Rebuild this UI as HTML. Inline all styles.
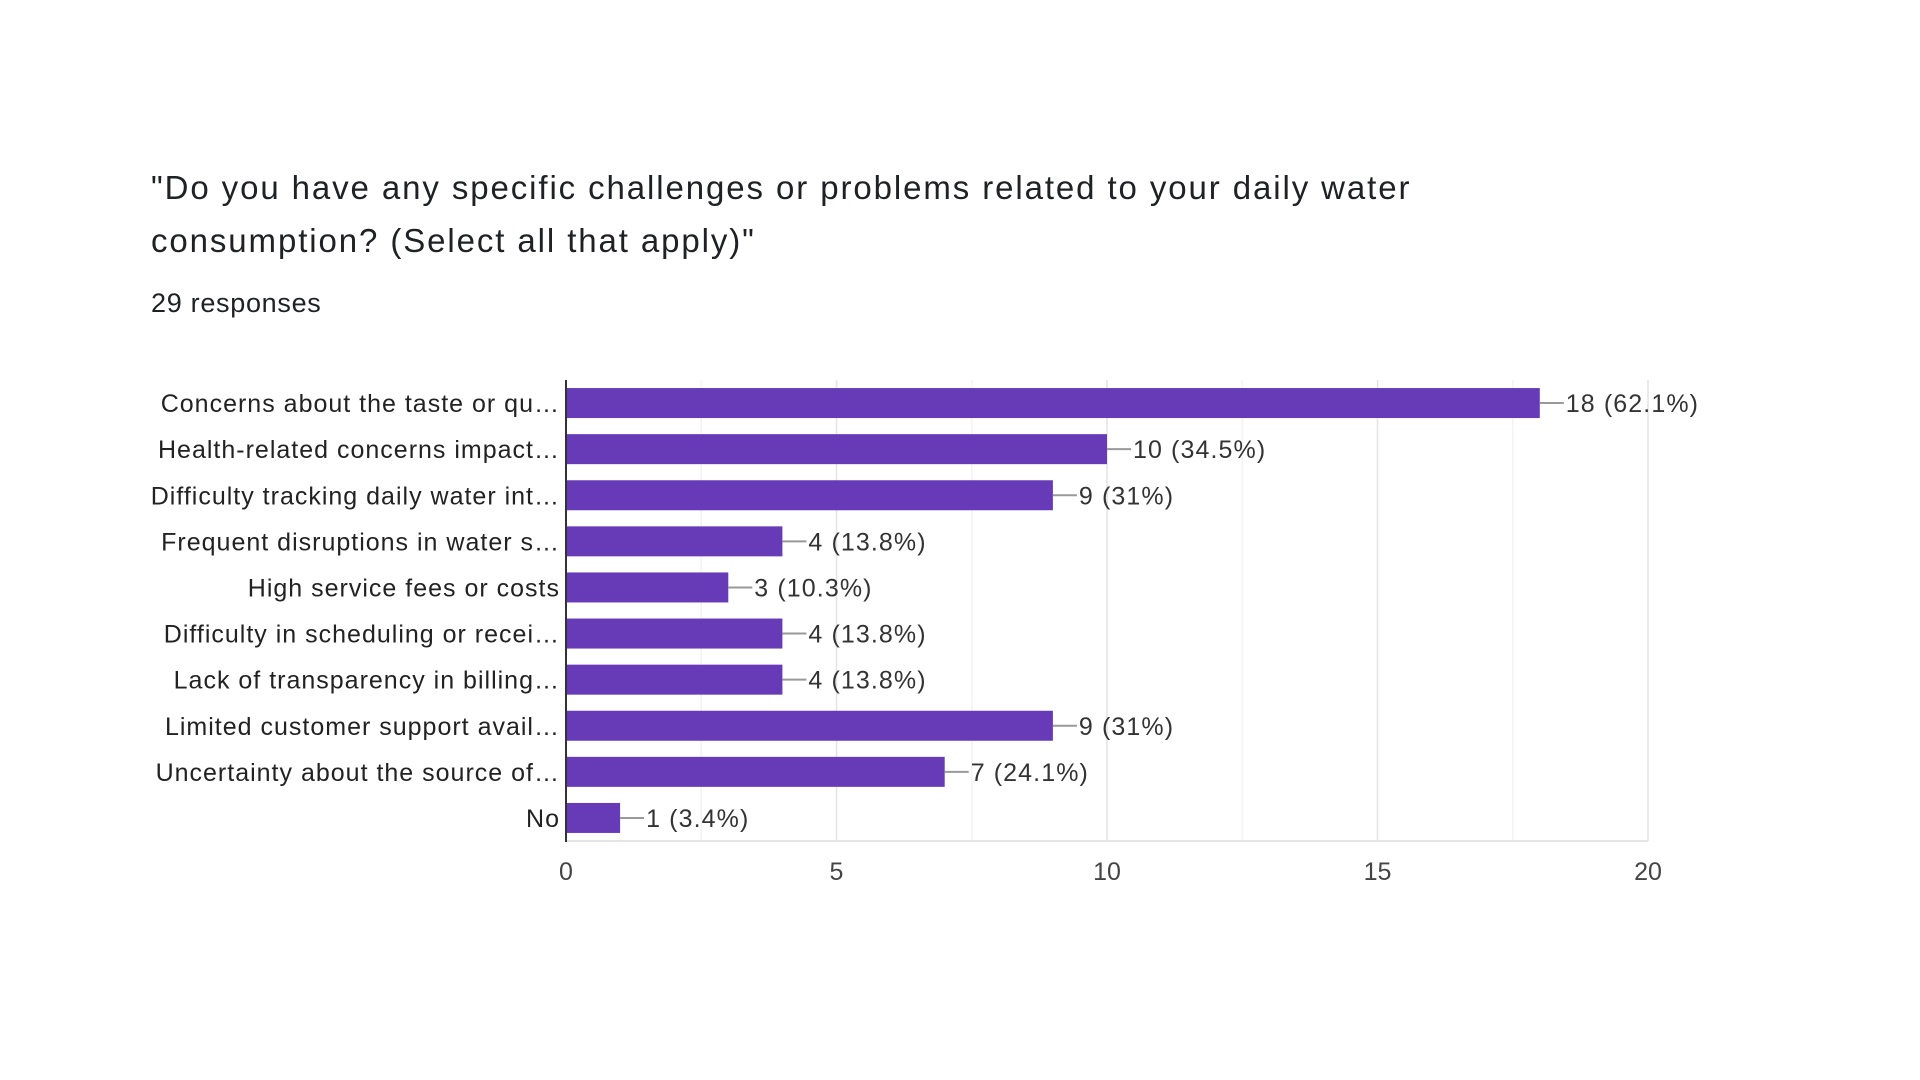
<!DOCTYPE html>
<html><head><meta charset="utf-8"><style>
body{margin:0;background:#fff;width:1920px;height:1080px;overflow:hidden;font-family:"Liberation Sans",Arial,sans-serif}
#title{position:absolute;left:151px;top:161px;font-size:33px;letter-spacing:1.9px;line-height:53px;color:#202124;width:1450px}
#resp{position:absolute;left:151px;top:288px;font-size:27px;letter-spacing:0.7px;color:#202124}
svg{position:absolute;left:0;top:0}
</style></head><body>
<div id="title">"Do you have any specific challenges or problems related to your daily water consumption? (Select all that apply)"</div>
<div id="resp">29 responses</div>
<svg id="chart" width="1920" height="1080"></svg>
<script>
const categories=["Concerns about the taste or qu…","Health-related concerns impact…","Difficulty tracking daily water int…","Frequent disruptions in water s…","High service fees or costs","Difficulty in scheduling or recei…","Lack of transparency in billing…","Limited customer support avail…","Uncertainty about the source of…","No"];
const values=[18,10,9,4,3,4,4,9,7,1];
const valueLabels=["18 (62.1%)","10 (34.5%)","9 (31%)","4 (13.8%)","3 (10.3%)","4 (13.8%)","4 (13.8%)","9 (31%)","7 (24.1%)","1 (3.4%)"];
const ticks=[0,5,10,15,20];
const minorTicks=[2.5,7.5,12.5,17.5];
const svg=document.getElementById('chart');const NS='http://www.w3.org/2000/svg';
const x0=566,x1=1648,maxV=20,top0=380,bot=841;
const xs=v=>x0+(x1-x0)*v/maxV;
const step=(bot-top0)/categories.length;
const yc=i=>top0+step*(i+0.5);
function mk(t,a){const e=document.createElementNS(NS,t);for(const k in a)e.setAttribute(k,a[k]);svg.appendChild(e);return e;}
minorTicks.forEach(t=>{const l=mk('line',{x1:xs(t),x2:xs(t),y1:top0,y2:bot,stroke:'#f3f3f3','stroke-width':1.5});

});
ticks.forEach(t=>{if(t>0){const l=mk('line',{x1:xs(t),x2:xs(t),y1:top0,y2:bot,stroke:'#e4e4e4','stroke-width':1.5});

}
const tx=mk('text',{x:xs(t),y:880,'text-anchor':'middle','font-size':25,fill:'#444'});tx.textContent=t;

});
const bl=mk('line',{x1:x0,x2:x1,y1:bot,y2:bot,stroke:'#e4e4e4','stroke-width':2});


values.forEach((v,i)=>{const y=yc(i),h=30;
const r=mk('rect',{x:x0,y:y-h/2,width:xs(v)-x0,height:h,fill:'#673ab7'});


const ln=mk('line',{x1:xs(v),x2:xs(v)+24,y1:y,y2:y,stroke:'#999','stroke-width':2});


const t=mk('text',{x:xs(v)+26,y:y+9,'font-size':25,'letter-spacing':1.1,fill:'#333'});t.textContent=valueLabels[i];


const c=mk('text',{x:560,y:y+9,'text-anchor':'end','font-size':25,'letter-spacing':1,fill:'#222'});c.textContent=categories[i];

});
const ax=mk('line',{x1:x0,x2:x0,y1:top0,y2:bot+1,stroke:'#333','stroke-width':2});


</script>
</body></html>
